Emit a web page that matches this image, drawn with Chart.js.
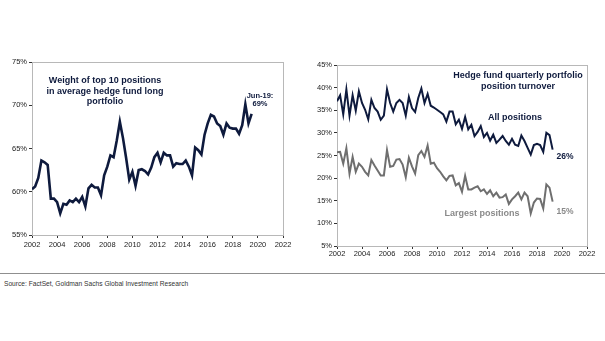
<!DOCTYPE html>
<html>
<head>
<meta charset="utf-8">
<script src="https://cdn.jsdelivr.net/npm/chart.js@4.4.1/dist/chart.umd.min.js"></script>
<style>
  html, body { margin: 0; padding: 0; background: #fff; }
  body { width: 605px; height: 341px; position: relative; overflow: hidden; }
  #leftWrap { position: absolute; left: 0; top: 50px; width: 300px; height: 200px; }
  #rightWrap { position: absolute; left: 300px; top: 50px; width: 305px; height: 210px; }
  #rule { position: absolute; left: 0; top: 273px; width: 605px; height: 0; border-top: 1.5px solid #8f8f8f; }
  #source { position: absolute; left: 4px; top: 279px; font: 8px "Liberation Sans", Arial, sans-serif; color: #333; white-space: nowrap; transform: scaleX(0.83); transform-origin: 0 0; }
</style>
</head>
<body>
<div id="leftWrap"><canvas id="leftChart" width="300" height="200"></canvas></div>
<div id="rightWrap"><canvas id="rightChart" width="305" height="210"></canvas></div>
<div id="rule"></div>
<div id="source">Source: FactSet, Goldman Sachs Global Investment Research</div>

<script>
// quarterly series, first point = Q1 2002
const startYear = 2002;

// weight of top 10 positions (%), Q1 2002 .. Q2 2019 (Jun-19)
const top10Weight = [
  60.3, 60.6, 61.6, 63.6, 63.4, 63.1, 59.2, 59.2, 58.8, 57.5,
  58.6, 58.5, 59.0, 58.8, 59.2, 58.8, 59.4, 58.3, 60.4, 60.8,
  60.5, 60.5, 59.6, 61.9, 62.9, 64.2, 64.0, 65.9, 68.1, 66.2,
  63.9, 61.4, 62.3, 60.7, 62.5, 62.6, 62.4, 62.0, 62.8, 64.0,
  64.5, 63.4, 64.5, 64.2, 64.2, 62.9, 63.3, 63.2, 63.2, 63.6,
  62.9, 61.9, 65.1, 64.8, 64.3, 66.6, 67.9, 68.9, 68.7, 67.9,
  67.6, 66.6, 67.9, 67.4, 67.3, 67.3, 66.7, 67.7, 70.1, 67.9,
  69.0
];

// quarterly position turnover (%), Q1 2002 .. Q2 2019
const allPositions = [
  37.0, 38.3, 34.1, 39.6, 33.8, 38.3, 34.9, 39.2, 36.6, 35.1,
  33.0, 37.3, 35.5, 34.7, 32.9, 33.8, 39.6, 36.6, 34.7, 36.6,
  37.3, 36.6, 33.8, 37.9, 35.5, 34.6, 37.7, 39.8, 36.6, 38.6,
  36.0, 35.6, 35.1, 34.6, 34.1, 32.5, 34.7, 34.7, 31.9, 32.9,
  30.9, 33.5, 30.8, 31.8, 29.3, 30.2, 31.5, 29.1, 30.0, 28.3,
  29.6, 27.8, 28.5, 29.3, 28.2, 27.4, 28.7, 27.4, 27.1, 29.4,
  28.2, 26.7, 25.2, 27.3, 27.6, 27.3, 25.8, 30.0, 29.5, 26.3
];
const largestPositions = [
  25.7, 25.8, 23.2, 26.6, 21.0, 24.7, 21.4, 23.2, 22.5, 21.4,
  20.6, 24.0, 22.8, 21.7, 20.6, 20.6, 26.2, 22.5, 22.7, 24.1,
  24.2, 23.0, 20.2, 24.5, 22.6, 21.0, 25.1, 26.0, 24.7, 27.2,
  23.2, 23.4, 22.2, 21.4, 20.4, 19.5, 20.5, 20.6, 18.4, 18.9,
  17.0, 20.5, 17.5, 17.5, 17.9, 18.2, 17.1, 17.5, 16.5, 17.3,
  16.0, 16.8, 15.7, 15.8, 16.4, 14.3, 15.3, 16.0, 16.8, 15.3,
  16.8, 16.0, 12.2, 14.6, 15.5, 15.4, 13.3, 18.6, 17.9, 14.8
];

const yearTicks = [2002, 2022];
const leftPctRange = [55, 75];
const rightPctRange = [5, 45];

const navy = "#0e1a3d";
const grey = "#6f6f6f";
const tickFont = { family: "'Liberation Sans', Arial, sans-serif", size: 7.5 };

function toPoints(values) {
    return values.map(function (v, i) { return { x: startYear + i / 4, y: v }; });
}

// light frame round the plot, axes drawn darker on top
const framePlugin = {
    id: "frame",
    beforeDatasetsDraw(chart) {
        const a = chart.chartArea, c = chart.ctx;
        c.save();
        c.strokeStyle = "#b8b8b8";
        c.lineWidth = 1;
        c.strokeRect(Math.round(a.left) + 0.5, Math.round(a.top) + 0.5, Math.round(a.right - a.left), Math.round(a.bottom - a.top));
        c.restore();
    }
};

const textPlugin = {
    id: "notes",
    afterDraw(chart, args, opts) {
        const c = chart.ctx;
        c.save();
        c.textAlign = "center";
        c.textBaseline = "middle";
        (opts.items || []).forEach(function (t) {
            c.font = t.font;
            c.fillStyle = t.color;
            c.fillText(t.text, t.x, t.y);
        });
        c.restore();
    }
};

function makeScales(yRange, yAxisWidth, xAxisHeight, xPad) {
    return {
        x: {
            type: "linear",
            min: yearTicks[0],
            max: yearTicks[1],
            afterFit: function (s) { s.height = xAxisHeight; },
            ticks: {
                stepSize: 2,
                autoSkip: false,
                maxRotation: 0,
                padding: xPad,
                color: "#222",
                font: tickFont,
                callback: function (v) { return String(v); }
            },
            grid: { drawOnChartArea: false, drawTicks: true, tickLength: 3, color: "#333" },
            border: { display: true, color: "#333", width: 1 }
        },
        y: {
            min: yRange[0],
            max: yRange[1],
            afterFit: function (s) { s.width = yAxisWidth; },
            ticks: {
                stepSize: 5,
                padding: 2,
                color: "#222",
                font: tickFont,
                callback: function (v) { return v + "%"; }
            },
            grid: { drawOnChartArea: false, drawTicks: true, tickLength: 3, color: "#333" },
            border: { display: true, color: "#333", width: 1 }
        }
    };
}

const bold9 = "bold 9px 'Liberation Sans', Arial, sans-serif";
const bold75 = "bold 7.5px 'Liberation Sans', Arial, sans-serif";
const bold85 = "bold 8.5px 'Liberation Sans', Arial, sans-serif";

new Chart(document.getElementById("leftChart"), {
    type: "line",
    data: {
        datasets: [{
            data: toPoints(top10Weight),
            borderColor: navy,
            borderWidth: 2.6,
            pointRadius: 0,
            tension: 0
        }]
    },
    options: {
        responsive: false,
        animation: false,
        layout: { padding: { top: 12, right: 17, bottom: 0, left: 0 } },
        plugins: {
            legend: { display: false },
            tooltip: { enabled: false },
            notes: {
                items: [
                    { text: "Weight of top 10 positions", x: 105, y: 31, font: bold9, color: navy },
                    { text: "in average hedge fund long", x: 105, y: 41.5, font: bold9, color: navy },
                    { text: "portfolio", x: 105, y: 52, font: bold9, color: navy },
                    { text: "Jun-19:", x: 260, y: 45.5, font: bold75, color: navy },
                    { text: "69%", x: 260, y: 53.5, font: bold75, color: navy }
                ]
            }
        },
        scales: makeScales(leftPctRange, 32, 15, 2)
    },
    plugins: [framePlugin, textPlugin]
});

new Chart(document.getElementById("rightChart"), {
    type: "line",
    data: {
        datasets: [
            {
                label: "All positions",
                data: toPoints(allPositions),
                borderColor: navy,
                borderWidth: 2,
                pointRadius: 0,
                tension: 0
            },
            {
                label: "Largest positions",
                data: toPoints(largestPositions),
                borderColor: grey,
                borderWidth: 2,
                pointRadius: 0,
                tension: 0
            }
        ]
    },
    options: {
        responsive: false,
        animation: false,
        layout: { padding: { top: 15, right: 18, bottom: 0, left: 0 } },
        plugins: {
            legend: { display: false },
            tooltip: { enabled: false },
            notes: {
                items: [
                    { text: "Hedge fund quarterly portfolio", x: 218, y: 26, font: bold9, color: navy },
                    { text: "position turnover", x: 218, y: 36.7, font: bold9, color: navy },
                    { text: "All positions", x: 215, y: 67.7, font: bold9, color: navy },
                    { text: "26%", x: 265, y: 107, font: bold85, color: navy },
                    { text: "Largest positions", x: 182, y: 163.3, font: bold9, color: "#8a8a8a" },
                    { text: "15%", x: 265, y: 161.7, font: bold85, color: "#8a8a8a" }
                ]
            }
        },
        scales: makeScales(rightPctRange, 37, 14, 0)
    },
    plugins: [framePlugin, textPlugin]
});
</script>
</body>
</html>
